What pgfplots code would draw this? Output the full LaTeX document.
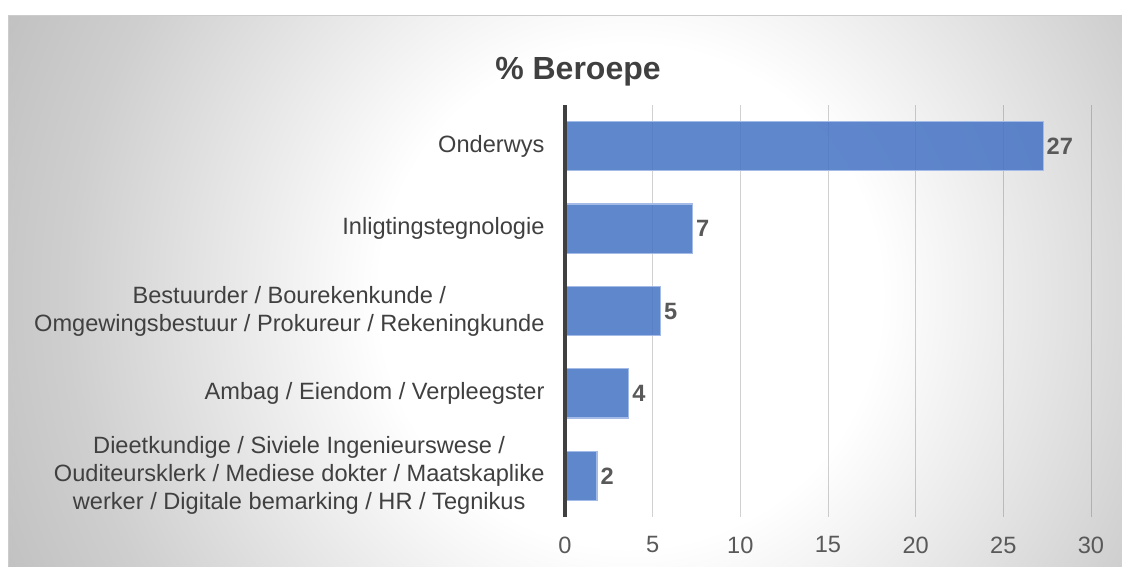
\documentclass[border=0pt]{standalone}
\usepackage{pgfplots}
\pgfplotsset{compat=1.18}
\usepackage{fontspec}
\setmainfont{Liberation Sans}
\definecolor{barblue}{HTML}{4472C4}
\definecolor{baredge}{HTML}{A3BBE6}
\definecolor{txtdark}{HTML}{404040}
\definecolor{txtgray}{HTML}{595959}
\definecolor{axisdark}{HTML}{404040}
\pgfdeclareradialshading{bgshade}{\pgfpoint{0bp}{0bp}}{color(0bp)=(white); color(250bp)=(white); color(560bp)=(black!19); color(720bp)=(black!26)}
\begin{document}
\begin{tikzpicture}
\useasboundingbox (0pt,0pt) rectangle (1122pt,566pt);
\fill[white] (0pt,0pt) rectangle (1122pt,566pt);
\begin{scope}
\clip (8pt,0pt) rectangle (1122pt,550pt);
\node[inner sep=0pt, outer sep=0pt] at (630pt,270pt) {\pgfuseshading{bgshade}};
\end{scope}
\draw[black!20, line width=1pt] (8pt,0pt) -- (8pt,550pt) -- (1122pt,550pt);
\begin{axis}[
  at={(565pt,49pt)}, anchor=south west,
  scale only axis, width=526pt, height=412pt,
  xmin=0, xmax=30, ymin=0.5, ymax=5.5,
  xbar, bar width=0.595,
  axis line style={draw=none},
  xtick={0,5,...,30}, ytick={1,2,3,4,5},
  yticklabels={{Dieetkundige / Siviele Ingenieurswese /\\Ouditeursklerk / Mediese dokter / Maatskaplike\\werker / Digitale bemarking / HR / Tegnikus},
               {Ambag / Eiendom / Verpleegster},
               {Bestuurder / Bourekenkunde /\\Omgewingsbestuur / Prokureur / Rekeningkunde},
               {Inligtingstegnologie},
               {Onderwys}},
  major tick length=0pt,
  xmajorgrids, grid style={black, opacity=0.18, line width=1pt},
  tick label style={font=\fontsize{23.6}{28}\selectfont},
  xticklabel style={text=txtgray, yshift=-16pt},
  yticklabel style={text=txtdark, align=center, xshift=-17pt},
  /pgf/number format/assume math mode=true,
  point meta=explicit symbolic,
  nodes near coords,
  every node near coord/.append style={font=\bfseries\fontsize{23.6}{28}\selectfont, text=txtgray, anchor=west, inner sep=3pt, fill opacity=1, text opacity=1},
  clip=false,
]
\addplot[fill=barblue, fill opacity=0.85, draw=baredge, line width=1.2pt] coordinates {(1.82,1) [2] (3.64,2) [4] (5.45,3) [5] (7.27,4) [7] (27.27,5) [27]};
\draw[axisdark, line width=3.3pt] (axis cs:0,0.5) -- (axis cs:0,5.5);
\end{axis}
\node[font=\bfseries\fontsize{32}{38}\selectfont, text=txtdark] at (578pt,494pt) {\% Beroepe};
\end{tikzpicture}
\end{document}
